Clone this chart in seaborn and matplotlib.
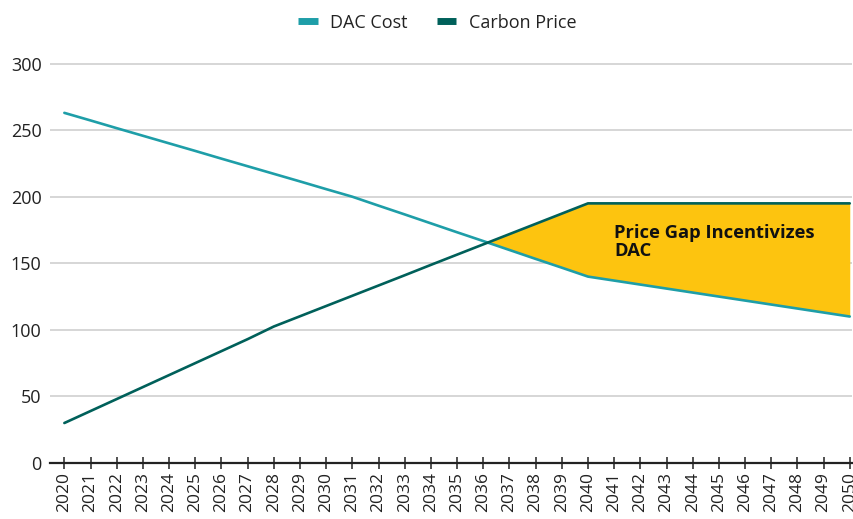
import numpy as np
import pandas as pd
import seaborn as sns
import matplotlib.pyplot as plt
from matplotlib.lines import Line2D

# Werte
years = list(range(2020, 2051))
dac_cost = [263, 257.3, 251.5, 245.8, 240.1, 234.4, 228.6, 222.9, 217.2, 211.5, 205.7,
            200, 193.3, 186.7, 180, 173.3, 166.7, 160, 153.3, 146.7, 140,
            137, 134, 131, 128, 125, 122, 119, 116, 113, 110]
carbon_price = [30, 39, 48, 57, 66, 75, 84, 93, 102.5, 110.2, 117.9,
                125.6, 133.3, 141, 148.8, 156.5, 164.2, 171.9, 179.6, 187.3, 195,
                195, 195, 195, 195, 195, 195, 195, 195, 195, 195]
series_names = ["DAC Cost", "Carbon Price"]
annotation = "Price Gap Incentivizes\nDAC"

COLORS = {"DAC Cost": "#1e9ea8", "Carbon Price": "#00605a"}
FILL_COLOR = "#fdc40f"

df = pd.DataFrame({
    "Jahr": years * 2,
    "Wert": dac_cost + carbon_price,
    "Serie": [series_names[0]] * len(years) + [series_names[1]] * len(years),
})

sns.set_theme(style="white")
plt.rcParams["font.family"] = ["Open Sans", "DejaVu Sans"]

fig = plt.figure(figsize=(8.54, 5.19), dpi=100)
ax = fig.add_axes([0.0585, 0.108, 0.939, 0.772])

# Fläche zwischen den Kurven, wo der CO2-Preis über den DAC-Kosten liegt
x = np.array(years, dtype=float)
dac = np.array(dac_cost, dtype=float)
cp = np.array(carbon_price, dtype=float)
ax.fill_between(x, dac, cp, where=cp >= dac, interpolate=True,
                color=FILL_COLOR, lw=0, zorder=2)

sns.lineplot(data=df, x="Jahr", y="Wert", hue="Serie", palette=COLORS,
             linewidth=1.9, legend=False, ax=ax, zorder=3)

ax.set_xlim(2019.45, 2050.08)
ax.set_ylim(0, 301)
ax.set_yticks(range(0, 301, 50))
ax.set_xticks(years)
ax.set_xticklabels([str(y) for y in years], rotation=90)
ax.set_xlabel("")
ax.set_ylabel("")

ax.yaxis.grid(True, color="#cccccc", lw=1.1, zorder=0)
ax.xaxis.grid(False)
for side in ["left", "right", "top"]:
    ax.spines[side].set_visible(False)
ax.spines["bottom"].set_color("#222222")
ax.spines["bottom"].set_linewidth(1.6)
ax.spines["bottom"].set_zorder(4)

ax.tick_params(axis="x", direction="inout", length=9, width=1.1, color="#222222",
               labelsize=12.5, labelcolor="#222222", pad=2, bottom=True)
ax.tick_params(axis="y", length=0, labelsize=13, labelcolor="#222222", pad=6)

ax.text(2041.0, 166, annotation, fontsize=13.2, fontweight="bold",
        color="#111111", va="center", ha="left", linespacing=1.0, zorder=5)

handles = [Line2D([0], [0], color=COLORS[n], lw=5, solid_capstyle="butt")
           for n in series_names]
fig.legend(handles, series_names, loc="upper center", bbox_to_anchor=(0.512, 1.005),
           ncol=2, frameon=False, fontsize=13, handlelength=1.1,
           columnspacing=1.6, handletextpad=0.7, labelcolor="#222222")

fig.savefig("out.png", dpi=100)
plt.close(fig)
